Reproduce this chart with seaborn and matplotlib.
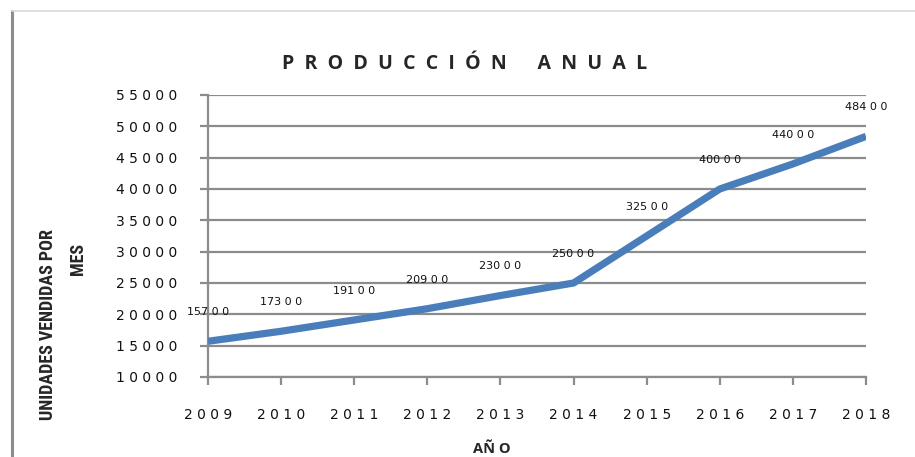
"""
Producción anual - line chart with data labels
"""

import matplotlib
matplotlib.use('Agg')
import matplotlib.pyplot as plt
from matplotlib import font_manager
from matplotlib.lines import Line2D
from matplotlib.ticker import FuncFormatter, MultipleLocator
import pandas as pd
import seaborn as sns

# Data
years = [2009, 2010, 2011, 2012, 2013, 2014, 2015, 2016, 2017, 2018]
units = [15700, 17300, 19100, 20900, 23000, 25000, 32500, 40000, 44000, 48400]

title = '  '.join('PRODUCCIÓN') + '      ' + '  '.join('ANUAL')
xlabel = 'AÑ O'
ylabel_1 = 'UNIDADES VENDIDAS POR'
ylabel_2 = 'MES'

df = pd.DataFrame({'year': years, 'units': units})

sns.set_theme(style='white')
plt.rcParams['font.family'] = ['DejaVu Sans']

# condensed font for the y label if one is available
installed = {f.name for f in font_manager.fontManager.ttflist}
narrow = 'DejaVu Sans'
for cand in ['Liberation Sans Narrow', 'DejaVu Sans Condensed', 'Roboto Condensed', 'Open Sans Condensed']:
    if cand in installed:
        narrow = cand
        break

W, H = 915, 457
fig = plt.figure(figsize=(W / 100, H / 100), dpi=100)
ax = fig.add_axes([208 / W, 1 - 377 / H, (866 - 208) / W, (377 - 95) / H])

grid_col = '#8c8c8c'
line_col = '#4a7ebb'

sns.lineplot(data=df, x='year', y='units', ax=ax, color=line_col,
             linewidth=5.2, solid_capstyle='butt', zorder=3)

ax.set_xlim(years[0], years[-1])
ax.set_ylim(10000, 55000)
ax.yaxis.set_major_locator(MultipleLocator(5000))
ax.set_xticks(years)
ax.set_xticklabels([' '.join(str(y)) for y in years])
ax.yaxis.set_major_formatter(FuncFormatter(lambda v, p: ' '.join(str(int(v)))))

ax.grid(axis='y', color=grid_col, linewidth=1.6, zorder=0)
ax.grid(axis='x', visible=False)
for side in ['top', 'right']:
    ax.spines[side].set_visible(False)
for side in ['left', 'bottom']:
    ax.spines[side].set_color(grid_col)
    ax.spines[side].set_linewidth(1.6)

ax.tick_params(axis='both', direction='out', length=6, width=1.6, color=grid_col,
               labelsize=10, labelcolor='#111111')
ax.tick_params(axis='x', pad=16, bottom=True)
ax.tick_params(axis='y', pad=16, left=True)
ax.set_xlabel('')
ax.set_ylabel('')

# data labels
for x, v in zip(years, units):
    s = str(v)
    ax.annotate(f'{s[:3]} {s[3]} {s[4]}', (x, v), xytext=(0, 21),
                textcoords='offset points', ha='center', va='center',
                fontsize=8, color='#111111', zorder=4)

# titles
fig.text(465 / W, 1 - 64 / H, title, ha='center', va='center',
         fontsize=14, fontweight='bold', family=['Open Sans', 'DejaVu Sans'])
fig.text(492 / W, 1 - 449 / H, xlabel, ha='center', va='center',
         fontsize=10.5, fontweight='bold', family=['Open Sans', 'DejaVu Sans'])
fig.text(48 / W, 1 - 325 / H, ylabel_1, rotation=90, ha='center', va='center',
         fontsize=13, fontweight='bold', family=[narrow, 'DejaVu Sans'])
fig.text(78 / W, 1 - 259 / H, ylabel_2, rotation=90, ha='center', va='center',
         fontsize=13, fontweight='bold', family=[narrow, 'DejaVu Sans'])

# chart area border pieces
fig.add_artist(Line2D([12 / W, 12 / W], [0, 1 - 11 / H], transform=fig.transFigure,
                      color=grid_col, linewidth=2.2))
fig.add_artist(Line2D([12 / W, 1], [1 - 11 / H, 1 - 11 / H], transform=fig.transFigure,
                      color='#d9d9d9', linewidth=1.2))

fig.savefig('out.png', dpi=100)
